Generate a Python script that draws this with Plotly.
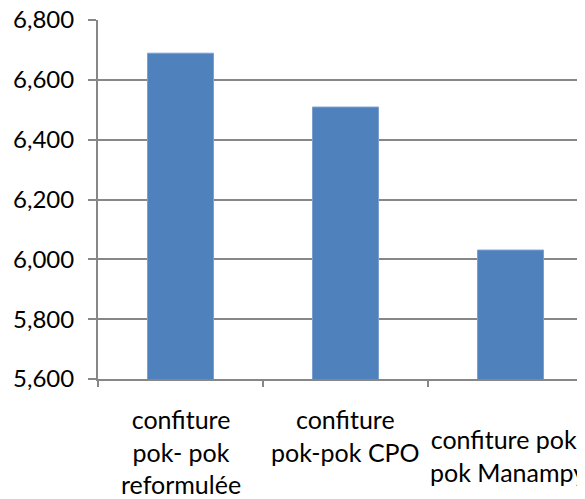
import plotly.graph_objects as go

categories = ["confiture<br>pok- pok<br>reformulée", "confiture<br>pok-pok CPO", "confiture pok-<br>pok Manampy"]
values = [6689, 6509, 6031]
y_ticks = [5600, 5800, 6000, 6200, 6400, 6600, 6800]

FONT = "Lato"
FS = 25
# vertical / horizontal offsets (px) of the category label blocks below the x axis
label_shift = [-72, -56, -76]
label_xshift = [0, 0, -3]

fig = go.Figure()
fig.add_trace(go.Bar(
    x=list(range(len(values))), y=values,
    width=0.4,
    marker=dict(color="#4F81BD", line=dict(color="#7C9FD0", width=1)),
))

for i, (txt, ys, xs) in enumerate(zip(categories, label_shift, label_xshift)):
    fig.add_annotation(
        x=i, xref="x", y=0, yref="paper", text=txt, showarrow=False,
        yanchor="middle", yshift=ys, xshift=xs, align="center",
        font=dict(family=FONT, size=FS, color="#000"),
    )

# page body has an 8px default margin; compensate so the plot sits where the reference has it
fig.update_layout(
    width=585, height=499,
    margin=dict(l=90, r=0, t=12, b=128, autoexpand=False),
    paper_bgcolor="white", plot_bgcolor="white",
    showlegend=False,
    font=dict(family=FONT, size=FS, color="#000"),
)
fig.update_xaxes(
    range=[-0.5, 2.5], tickvals=[-0.5, 0.5, 1.5, 2.5], ticktext=["", "", "", ""],
    ticks="outside", ticklen=6, tickwidth=1.5, tickcolor="#878787",
    showline=True, linecolor="#878787", linewidth=2,
    showgrid=False, zeroline=False, automargin=False,
)
fig.update_yaxes(
    range=[5600, 6800], tickvals=y_ticks, tickformat=",",
    tickfont=dict(family=FONT, size=24, color="#000"),
    ticks="outside", ticklen=8, tickwidth=1.5, tickcolor="#878787",
    showline=True, linecolor="#878787", linewidth=2,
    showgrid=True, gridcolor="#878787", gridwidth=1.5,
    zeroline=False, ticklabelstandoff=9, automargin=False,
    ticklabeloverflow="allow",
)

fig.write_html("out.html")
